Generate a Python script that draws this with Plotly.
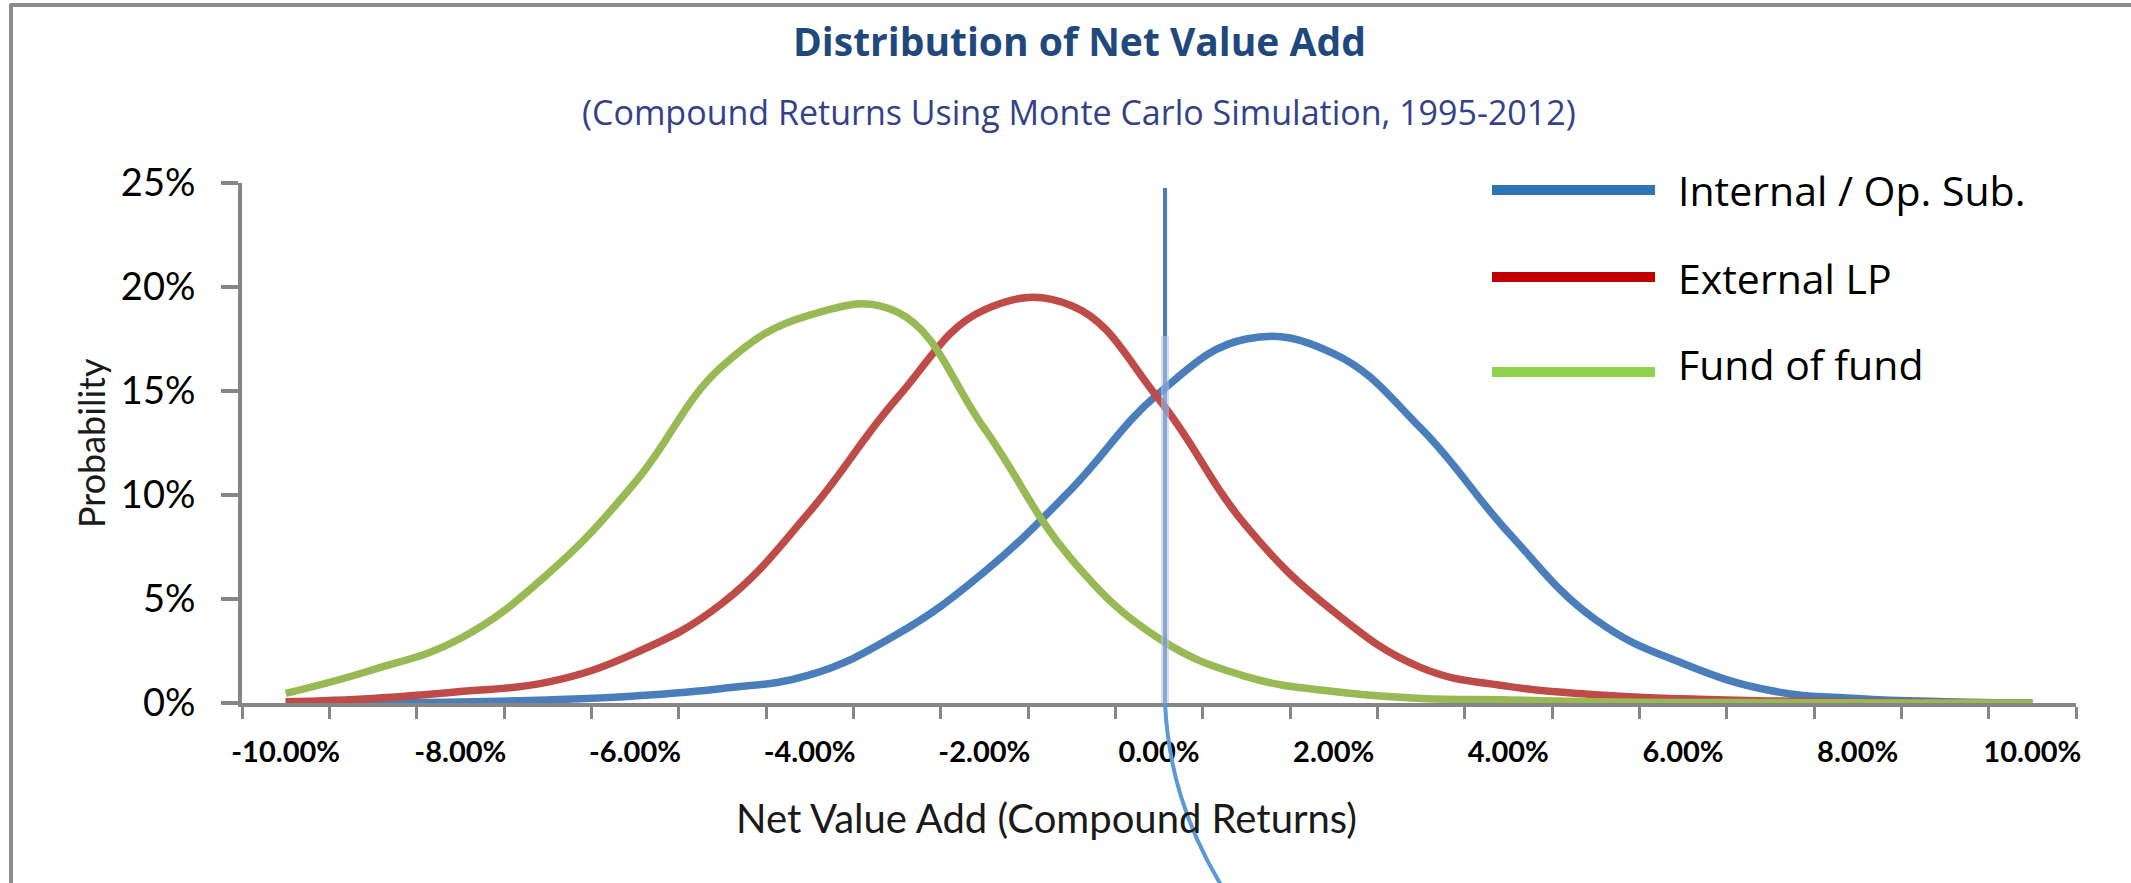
import plotly.graph_objects as go

# Net value add categories (percent), one point per 1%
returns_pct = list(range(-10, 11))
tick_vals = list(range(-10, 11, 2))
tick_text = [f"{v:.2f}%" for v in tick_vals]

# Probability (%) of each compound-return outcome
internal_op_sub = [0.0, 0.02, 0.05, 0.15, 0.34, 0.7, 1.35, 3.3, 6.3, 10.3, 14.9,
                   17.5, 16.8, 13.2, 8.2, 4.0, 1.9, 0.6, 0.22, 0.06, 0.0]
external_lp = [0.06, 0.22, 0.55, 1.0, 2.4, 4.8, 9.2, 14.65, 18.9, 19.1, 14.6,
               8.5, 4.4, 1.7, 0.8, 0.4, 0.2, 0.1, 0.05, 0.02, 0.0]
fund_of_fund = [0.46, 1.6, 3.1, 6.2, 10.6, 16.2, 18.65, 18.8, 13.2, 6.9, 3.1,
                1.27, 0.55, 0.22, 0.15, 0.06, 0.03, 0.02, 0.01, 0.0, 0.0]

series_names = ["Internal / Op. Sub.", "External LP", "Fund of fund"]
line_colors = ["#4A7EBB", "#BE4B48", "#98B954"]
key_colors = ["#2E75B6", "#C00000", "#92D050"]

W, H = 2131, 883
L, R, T, B = 242, 55, 183, 180
PW, PH = W - L - R, H - T - B


def px_x(px):
    return (px - L) / PW


def px_y(py):
    return (H - B - py) / PH


FONT = "Lato"
WIDE_FONT = "Open Sans"
AXIS_GRAY = "#868686"

fig = go.Figure()
for name, vals, col in zip(series_names, [internal_op_sub, external_lp, fund_of_fund], line_colors):
    fig.add_trace(go.Scatter(
        x=returns_pct, y=vals, name=name, mode="lines",
        line=dict(color=col, width=7.5, shape="spline", smoothing=1.2),
        showlegend=False, hoverinfo="skip",
    ))

shapes = []
# outer frame (top and left edges)
shapes.append(dict(type="line", xref="paper", yref="paper",
                   x0=px_x(10), x1=px_x(W + 5), y0=px_y(5), y1=px_y(5),
                   line=dict(color="#8C8C8C", width=4)))
shapes.append(dict(type="line", xref="paper", yref="paper",
                   x0=px_x(11), x1=px_x(11), y0=px_y(4), y1=px_y(H + 5),
                   line=dict(color="#8C8C8C", width=4)))

# marker line at zero net value add
zx = px_x(1165)
shapes.append(dict(type="line", xref="paper", yref="paper",
                   x0=zx, x1=zx, y0=px_y(188), y1=px_y(336),
                   line=dict(color="#4A7EBB", width=4)))
shapes.append(dict(type="line", xref="paper", yref="paper",
                   x0=zx, x1=zx, y0=px_y(336), y1=px_y(703),
                   line=dict(color="rgba(180,196,226,0.55)", width=8)))
shapes.append(dict(type="line", xref="paper", yref="paper",
                   x0=zx, x1=zx, y0=px_y(336), y1=px_y(703),
                   line=dict(color="rgba(120,152,205,0.8)", width=4)))
# callout curve running below the axis
pts = [(1165, 703), (1168, 765), (1184, 825), (1224, 890)]
p = [(px_x(a), px_y(b)) for a, b in pts]
shapes.append(dict(type="path", xref="paper", yref="paper",
                   path=f"M {p[0][0]},{p[0][1]} C {p[1][0]},{p[1][1]} {p[2][0]},{p[2][1]} {p[3][0]},{p[3][1]}",
                   line=dict(color="#5B9BD5", width=4)))

annotations = []
# key
key_y = [190, 277, 372]
text_y = [190, 278, 364]
for name, col, ly, ty in zip(series_names, key_colors, key_y, text_y):
    shapes.append(dict(type="line", xref="paper", yref="paper",
                       x0=px_x(1492), x1=px_x(1655), y0=px_y(ly), y1=px_y(ly),
                       line=dict(color=col, width=10)))
    annotations.append(dict(xref="paper", yref="paper", x=px_x(1676), y=px_y(ty),
                            xanchor="left", yanchor="middle", showarrow=False,
                            text=name, font=dict(family=WIDE_FONT, size=41, color="#000000")))

annotations += [
    dict(xref="paper", yref="paper", x=px_x(1079), y=px_y(40), xanchor="center", yanchor="middle",
         showarrow=False, text="<b>Distribution of Net Value Add</b>",
         font=dict(family=WIDE_FONT, size=39, color="#1F497D")),
    dict(xref="paper", yref="paper", x=px_x(1079), y=px_y(112), xanchor="center", yanchor="middle",
         showarrow=False, text="(Compound Returns Using Monte Carlo Simulation, 1995-2012)",
         font=dict(family=WIDE_FONT, size=34, color="#33418A")),
    dict(xref="paper", yref="paper", x=px_x(1046), y=px_y(818), xanchor="center", yanchor="middle",
         showarrow=False, text="Net Value Add (Compound Returns)",
         font=dict(family=FONT, size=40, color="#1A1A1A")),
    dict(xref="paper", yref="paper", x=px_x(91), y=px_y(443), xanchor="center", yanchor="middle",
         showarrow=False, text="Probability", textangle=-90,
         font=dict(family=FONT, size=36, color="#1A1A1A")),
]

fig.update_layout(
    width=W, height=H,
    margin=dict(l=L, r=R, t=T, b=B, pad=0),
    paper_bgcolor="white", plot_bgcolor="white",
    shapes=shapes, annotations=annotations,
    showlegend=False,
    xaxis=dict(
        range=[-10.5, 10.5], tickvals=tick_vals, ticktext=tick_text,
        showgrid=False, zeroline=False, showline=True, linecolor=AXIS_GRAY, linewidth=4,
        ticks="outside", ticklen=20, tickcolor="rgba(0,0,0,0)",
        tickfont=dict(family=FONT, size=29, color="#000000", weight="bold"),
        minor=dict(tick0=-10.5, dtick=1, ticks="outside", ticklen=12, tickwidth=3,
                   tickcolor=AXIS_GRAY, showgrid=False),
        fixedrange=True,
    ),
    yaxis=dict(
        range=[0, 25], dtick=5, tick0=0, ticksuffix="%",
        showgrid=False, zeroline=False, showline=True, linecolor=AXIS_GRAY, linewidth=4,
        ticks="outside", ticklen=17, tickwidth=4, tickcolor=AXIS_GRAY,
        ticklabelstandoff=18,
        tickfont=dict(family=FONT, size=38, color="#000000"),
        fixedrange=True,
    ),
)

fig.write_html("out.html")
